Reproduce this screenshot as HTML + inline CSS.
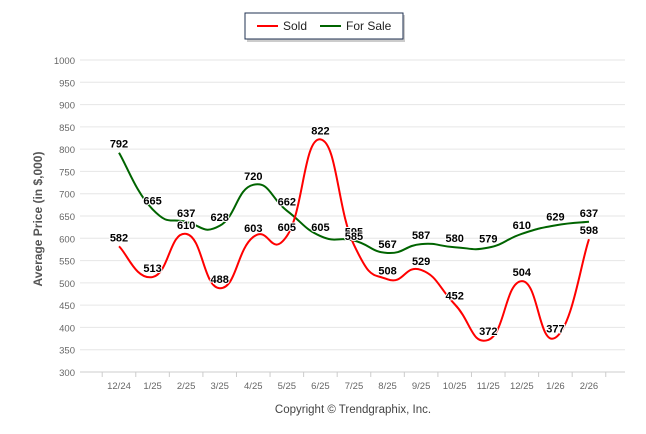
<!DOCTYPE html>
<html><head><meta charset="utf-8"><style>
body{margin:0;background:#fff;}
svg{display:block;font-family:"Liberation Sans",sans-serif;}
</style></head><body>
<svg id="chart" width="646" height="434" viewBox="0 0 646 434">
<g>
<rect x="247" y="15" width="158" height="27" fill="#999" opacity="0.5"/>
<rect x="245" y="13" width="158" height="26" fill="#fff" stroke="#1f3050" stroke-width="1"/>
<g><line x1="257" y1="26" x2="278" y2="26" stroke="#ff0000" stroke-width="2"/><text x="283" y="30" font-size="12" fill="#222">Sold</text></g>
<g><line x1="320" y1="26" x2="341" y2="26" stroke="#006400" stroke-width="2"/><text x="346" y="30" font-size="12" fill="#222">For Sale</text></g>
</g>
<g id="grid"></g><g id="xaxis"></g><g id="series"></g><g id="labels"></g>
<text transform="translate(42,219) rotate(-90)" text-anchor="middle" font-size="12" font-weight="bold" fill="#555">Average Price (in $,000)</text>
<text x="353" y="413" text-anchor="middle" font-size="11.5" fill="#444">Copyright © Trendgraphix, Inc.</text>
</svg>
<script>
const categories=["12/24","1/25","2/25","3/25","4/25","5/25","6/25","7/25","8/25","9/25","10/25","11/25","12/25","1/26","2/26"];
const soldValues=[582,513,610,488,603,605,822,585,508,529,452,372,504,377,598];
const forSaleValues=[792,665,637,628,720,662,605,595,567,587,580,579,610,629,637];
const yTicks=[300,350,400,450,500,550,600,650,700,750,800,850,900,950,1000];
const NS="http://www.w3.org/2000/svg";
function xs(i){return 119+i*33.57;}
function ys(v){return 372-(v-300)*312/700;}
function mk(tag,attrs,parent){const e=document.createElementNS(NS,tag);for(const k in attrs)e.setAttribute(k,attrs[k]);parent.appendChild(e);return e;}
const grid=document.getElementById('grid'),xa=document.getElementById('xaxis'),ser=document.getElementById('series'),lab=document.getElementById('labels');
yTicks.forEach(v=>{
 const l=mk('line',{x1:80,x2:625,y1:ys(v),y2:ys(v),stroke:v===300?'#ccc':'#e6e6e6','stroke-width':1},grid);
 
 
 const t=mk('text',{x:75,y:ys(v)+4,'text-anchor':'end','font-size':9.5,fill:'#666'},grid);
 t.textContent=v;
 
 
});
for(let i=0;i<=15;i++){const tk=mk('line',{x1:xs(i)-16.8,x2:xs(i)-16.8,y1:372,y2:377,stroke:'#ccc'},xa);
 
 }
categories.forEach((c,i)=>{const t=mk('text',{x:xs(i),y:389,'text-anchor':'middle','font-size':9.5,fill:'#666'},xa);
 t.textContent=c;
 
 });
function spline(vals){
 const p=vals.map((v,i)=>[xs(i),ys(v)]);let d='M'+p[0][0]+','+p[0][1];const k=1/(2*1.5*1.35);
 for(let i=0;i<p.length-1;i++){
  const p0=p[i-1]||p[i],p1=p[i],p2=p[i+1],p3=p[i+2]||p[i+1];
  const c1=[p1[0]+(p2[0]-p0[0])*k,p1[1]+(p2[1]-p0[1])*k];
  const c2=[p2[0]-(p3[0]-p1[0])*k,p2[1]-(p3[1]-p1[1])*k];
  d+=' C'+c1+' '+c2+' '+p2;
 }return d;}
const fs=mk('path',{d:spline(forSaleValues),fill:'none',stroke:'#006400','stroke-width':2},ser);


const sd=mk('path',{d:spline(soldValues),fill:'none',stroke:'#ff0000','stroke-width':2},ser);


[[forSaleValues,'for-sale'],[soldValues,'sold']].forEach(([vals,n])=>{
 vals.forEach((v,i)=>{const t=mk('text',{x:xs(i),y:ys(v)-5,'text-anchor':'middle','font-size':11,'font-weight':'bold',fill:'#000',stroke:'#fff','stroke-width':2,'paint-order':'stroke'},lab);
  t.textContent=v;
  
  });
});
</script>
</body></html>
